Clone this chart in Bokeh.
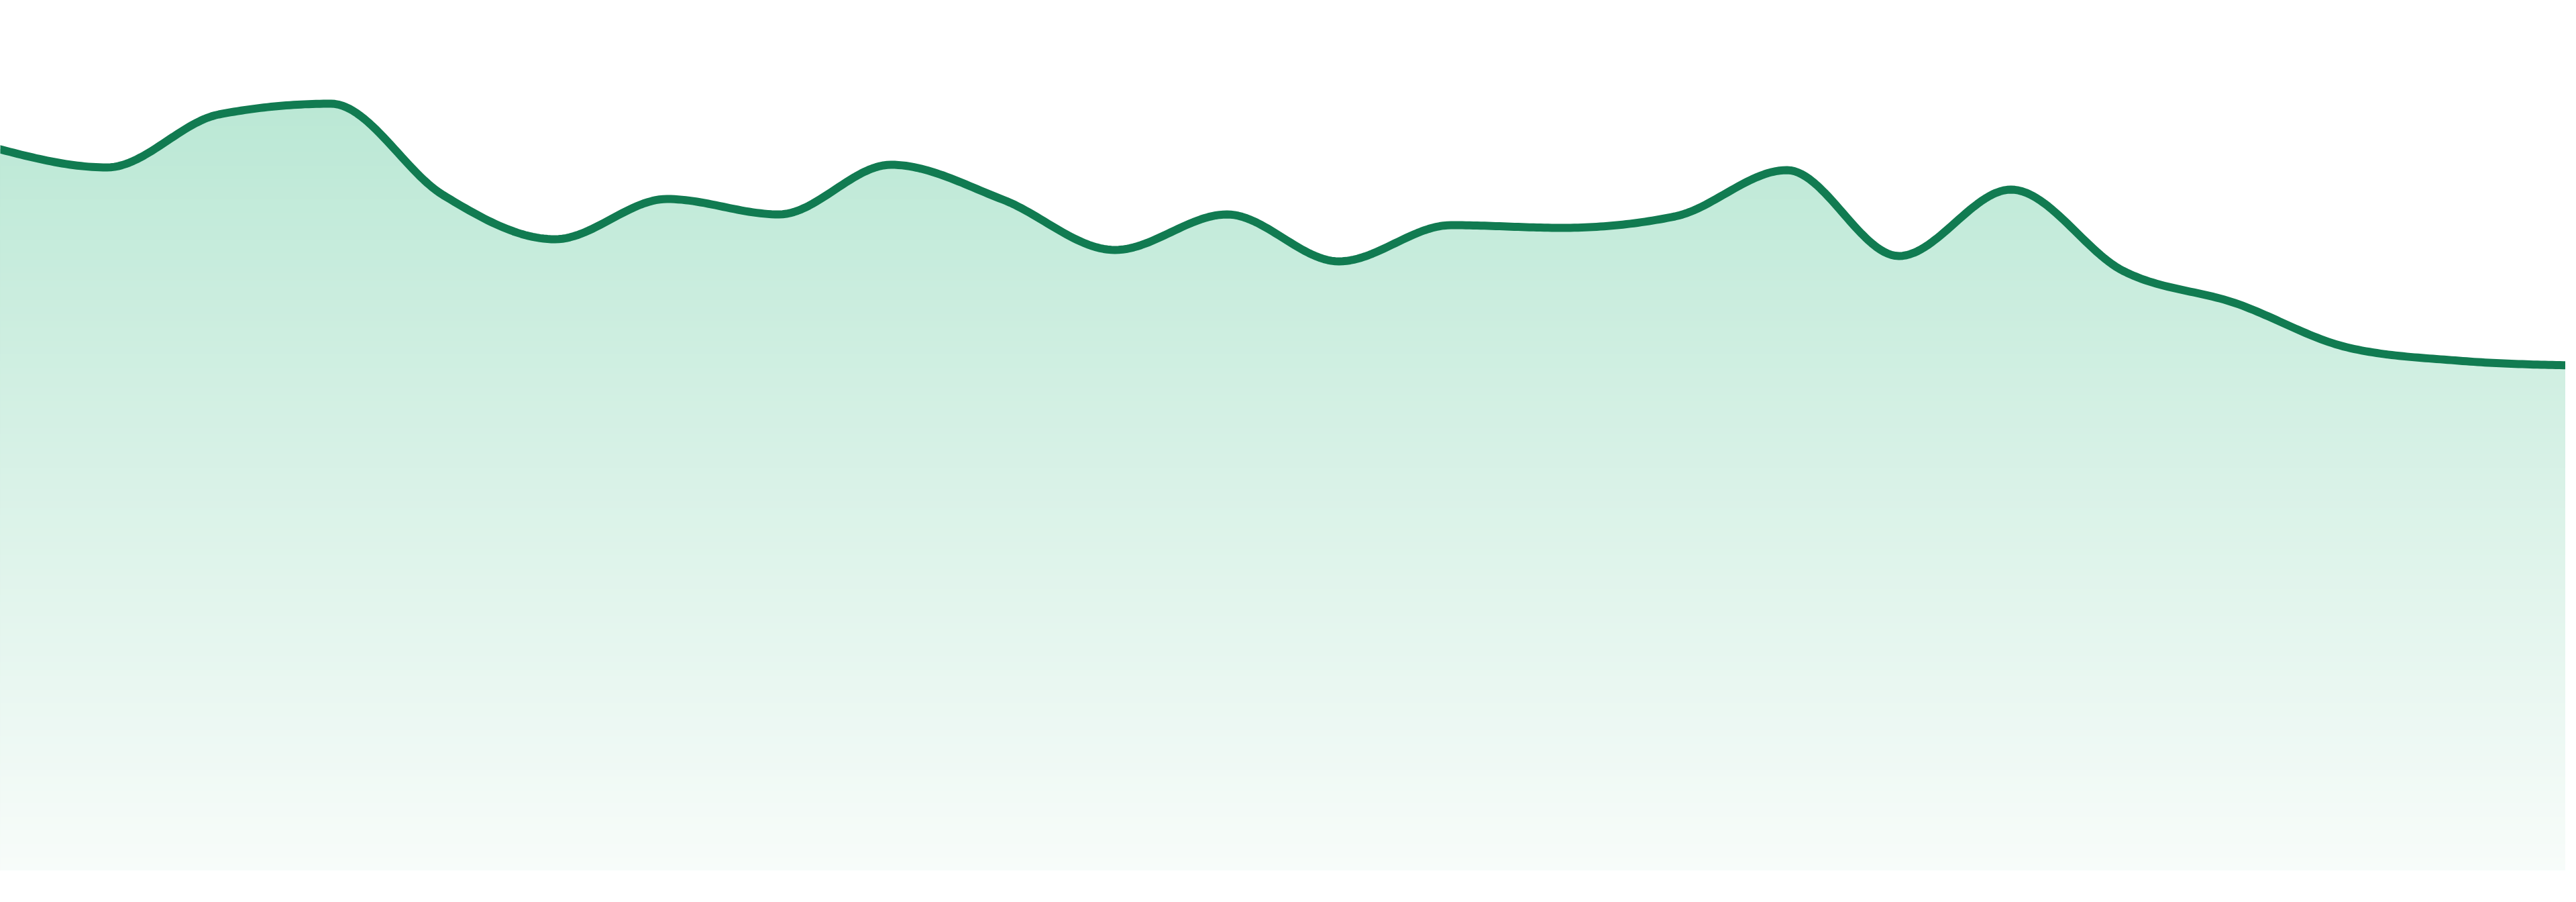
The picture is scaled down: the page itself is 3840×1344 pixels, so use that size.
import numpy as np
from bokeh.plotting import figure
from bokeh.models import Range1d
from bokeh.embed import file_html
from bokeh.resources import INLINE

# one value per knot
points = list(range(24))
values = [107.7, 104.8, 112.7, 114.3, 100.7, 94.1, 100.1, 97.8,
          105.2, 100.0, 92.5, 97.8, 90.8, 96.2, 95.8, 97.5,
          104.4, 91.6, 101.5, 89.4, 84.6, 78.0, 76.0, 75.3]

LINE = "#117b51"
TOP_RGB = (187, 232, 213)
BOTTOM_RGB = (248, 252, 250)

# the page has an 8px margin; the window shows x 8..3832 and y 8..1305
PX_W, PX_H = 3840, 1305


def monotone_curve(xs, ys, steps=30):
    # same smoothing as d3.curveMonotoneX
    xs = np.asarray(xs, float)
    ys = np.asarray(ys, float)
    n = len(xs)
    h = np.diff(xs)
    s = np.diff(ys) / h
    t = np.zeros(n)
    for i in range(1, n - 1):
        s0, s1 = s[i - 1], s[i]
        p = (s0 * h[i] + s1 * h[i - 1]) / (h[i - 1] + h[i])
        t[i] = (np.sign(s0) + np.sign(s1)) * min(abs(s0), abs(s1), 0.5 * abs(p))
    t[0] = (3 * s[0] - t[1]) / 2
    t[-1] = (3 * s[-1] - t[-2]) / 2
    cx, cy = [], []
    u = np.linspace(0, 1, steps, endpoint=False)
    for i in range(n - 1):
        dx = h[i] / 3
        px = [xs[i], xs[i] + dx, xs[i + 1] - dx, xs[i + 1]]
        py = [ys[i], ys[i] + dx * t[i], ys[i + 1] - dx * t[i + 1], ys[i + 1]]
        b = [(1 - u) ** 3, 3 * (1 - u) ** 2 * u, 3 * (1 - u) * u ** 2, u ** 3]
        cx.extend(sum(b[k] * px[k] for k in range(4)))
        cy.extend(sum(b[k] * py[k] for k in range(4)))
    cx.append(xs[-1])
    cy.append(ys[-1])
    return np.array(cx), np.array(cy)


cx, cy = monotone_curve(points, values)

last = points[-1]
p = figure(width=3824, height=1297, output_backend="svg", toolbar_location=None,
           x_axis_location=None, y_axis_location=None,
           x_range=Range1d(8 * last / PX_W, 3832 * last / PX_W),
           y_range=Range1d(0, (PX_H - 8) / 10), min_border=0)
p.grid.visible = False
p.outline_line_color = None
p.background_fill_color = "white"
p.border_fill_color = "white"

# vertical gradient under the line: stacked layers, lighter towards the bottom
top = max(values)
for level in np.arange(131, -0.5, -1.0):
    f = min(max((top - level) / top, 0.0), 1.0)
    rgb = tuple(int(round(a + (b - a) * f)) for a, b in zip(TOP_RGB, BOTTOM_RGB))
    p.varea(x=cx, y1=0, y2=np.minimum(cy, level), fill_color="#%02x%02x%02x" % rgb)

p.line(cx, cy, line_color=LINE, line_width=12, line_join="round")

open("out.html", "w").write(file_html(p, INLINE))
